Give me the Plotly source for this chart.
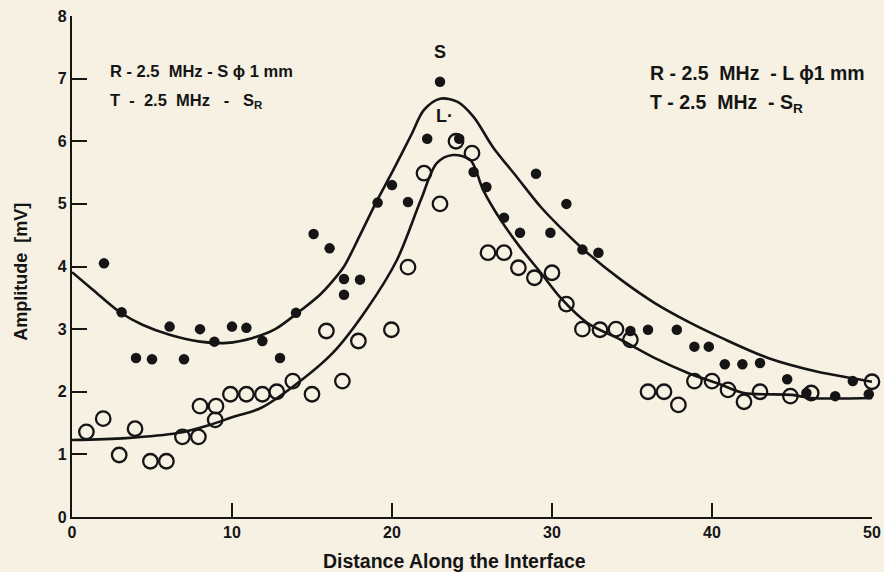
import plotly.graph_objects as go

# Filled dots: S receiver series
s_x = [2, 3.1, 4.0, 5.0, 6.1, 7.0, 8.0, 8.9, 10.0, 10.9, 11.9, 13.0, 14.0, 15.1, 16.1,
       17.0, 17.0, 18.0, 19.1, 20.0, 21.0, 22.2, 23.0, 24.2, 25.1, 25.9, 27.0, 28.0,
       29.0, 29.9, 30.9, 31.9, 32.9, 34.9, 36.0, 37.8, 38.9, 39.8, 40.8, 41.9, 43.0,
       44.7, 45.9, 47.7, 48.8, 49.8]
s_y = [4.05, 3.27, 2.54, 2.52, 3.04, 2.52, 3.0, 2.8, 3.04, 3.02, 2.81, 2.54, 3.26, 4.52, 4.29,
       3.8, 3.55, 3.79, 5.02, 5.3, 5.03, 6.04, 6.95, 6.04, 5.51, 5.27, 4.78, 4.54,
       5.48, 4.54, 5.0, 4.27, 4.22, 2.97, 2.99, 2.99, 2.72, 2.72, 2.44, 2.44, 2.46,
       2.2, 1.98, 1.93, 2.17, 1.96]

# Open circles: L receiver series
l_x = [0.9, 1.95, 2.95, 3.94, 4.9, 5.9, 6.9, 7.9, 8.0, 9.0, 8.95, 9.9, 10.9, 11.9, 12.8,
       13.8, 15.0, 15.9, 16.9, 17.9, 19.96, 21.0, 22.0, 23.0, 24.0, 25.0, 26.0, 27.0,
       27.9, 28.9, 30.0, 30.9, 31.9, 33.0, 34.0, 34.9, 36.0, 37.0, 37.9, 38.9, 40.0,
       41.0, 42.0, 43.0, 44.9, 46.2, 50.0]
l_y = [1.36, 1.57, 0.99, 1.41, 0.89, 0.89, 1.28, 1.28, 1.77, 1.77, 1.55, 1.96, 1.96, 1.96, 2.0,
       2.17, 1.96, 2.97, 2.17, 2.81, 2.99, 3.99, 5.49, 5.0, 6.0, 5.81, 4.22, 4.22,
       3.98, 3.82, 3.9, 3.4, 3.0, 2.99, 3.0, 2.83, 2.0, 2.0, 1.79, 2.17, 2.17,
       2.03, 1.84, 2.0, 1.93, 1.98, 2.16]

# Fitted curves
s_fit_x = [0, 1.3, 3.0, 4.4, 6.1, 8.0, 9.7, 11.3, 12.7, 14.1, 15.5, 16.3, 17.0, 18.0, 19.0,
           20.1, 21.2, 22.0, 23.0, 24.1, 25.1, 26.3, 27.8, 29.3, 30.5, 32.2, 34.3, 36.4,
           38.5, 40.6, 43.5, 46.6, 48.7, 50]
s_fit_y = [3.91, 3.63, 3.27, 3.07, 2.91, 2.8, 2.78, 2.86, 3.0, 3.26, 3.55, 3.77, 4.0, 4.5, 5.02,
           5.55, 6.1, 6.5, 6.68, 6.63, 6.39, 5.91, 5.43, 4.95, 4.63, 4.22, 3.79, 3.42,
           3.12, 2.86, 2.54, 2.32, 2.22, 2.16]

l_fit_x = [0, 3.4, 6.6, 8.6, 10.1, 11.8, 13.8, 16.3, 18.4, 20.3, 21.8, 22.8, 23.8, 24.9,
           25.7, 26.8, 28.0, 29.3, 30.5, 32.2, 34.3, 36.4, 38.5, 40.5, 42.0, 45.0, 46.2, 50]
l_fit_y = [1.23, 1.26, 1.34, 1.47, 1.6, 1.74, 2.08, 2.62, 3.31, 4.1, 5.06, 5.65, 5.78, 5.7,
           5.22, 4.74, 4.31, 3.9, 3.51, 3.1, 2.83, 2.54, 2.3, 2.12, 1.98, 1.95, 1.9, 1.9]

x_ticks = [0, 10, 20, 30, 40, 50]
y_ticks = [0, 1, 2, 3, 4, 5, 6, 7, 8]

INK = "#151515"
BG = "#f6f1e3"
FONT = "Liberation Sans, Arial, sans-serif"

fig = go.Figure()
for fx, fy in ((s_fit_x, s_fit_y), (l_fit_x, l_fit_y)):
    fig.add_trace(go.Scatter(x=fx, y=fy, mode="lines",
                             line=dict(color=INK, width=2.6, shape="spline", smoothing=0.9),
                             showlegend=False, hoverinfo="skip", cliponaxis=False))
fig.add_trace(go.Scatter(x=s_x, y=s_y, mode="markers",
                         marker=dict(symbol="circle", size=10.5, color=INK, line=dict(width=0)),
                         showlegend=False, cliponaxis=False))
fig.add_trace(go.Scatter(x=l_x, y=l_y, mode="markers",
                         marker=dict(symbol="circle-open", size=14.5, color=INK, line=dict(width=2.3)),
                         showlegend=False, cliponaxis=False))

def f(size):
    return dict(family=FONT, size=size, color=INK, weight="bold")

annotations = [
    dict(x=2.25, y=7.12, text="R - 2.5  MHz - S ϕ 1 mm", xanchor="left", font=f(16.5)),
    dict(x=2.25, y=6.65, text="T  -  2.5  MHz   -   S<sub>R</sub>", xanchor="left", font=f(16.5)),
    dict(x=36.0, y=7.09, text="R - 2.5  MHz  - L ϕ1 mm", xanchor="left", font=f(19.5)),
    dict(x=36.0, y=6.6, text="T - 2.5  MHz  - S<sub>R</sub>", xanchor="left", font=f(19.5)),
    dict(x=23.0, y=7.43, text="S", xanchor="center", font=f(18)),
    dict(x=23.3, y=6.41, text="L·", xanchor="center", font=f(18)),
]
for a in annotations:
    fig.add_annotation(xref="x", yref="y", showarrow=False, yanchor="middle", **a)

# Axis titles as paper-positioned annotations
fig.add_annotation(xref="paper", yref="paper", x=0.4775, y=-0.088, xanchor="center",
                   yanchor="middle", showarrow=False, text="Distance Along the Interface",
                   font=f(19.5))
fig.add_annotation(xref="paper", yref="paper", x=-0.064, y=0.489, xanchor="center",
                   yanchor="middle", showarrow=False, textangle=-90,
                   text="Amplitude  [mV]", font=f(18))

fig.update_layout(
    width=884, height=572,
    margin=dict(l=72, r=12, t=16, b=55),
    paper_bgcolor=BG, plot_bgcolor=BG,
    font=dict(family=FONT, color=INK),
    xaxis=dict(range=[0, 50], tickvals=x_ticks, ticktext=[str(v) for v in x_ticks],
               automargin=False,
               showgrid=False, zeroline=False, showline=True, linecolor=INK, linewidth=2.2,
               ticks="inside", ticklen=14, tickwidth=2, tickcolor=INK,
               tickfont=f(16)),
    yaxis=dict(range=[0, 8], tickvals=y_ticks, ticktext=[str(v) for v in y_ticks],
               automargin=False,
               showgrid=False, zeroline=False, showline=True, linecolor=INK, linewidth=2.2,
               ticks="inside", ticklen=15, tickwidth=2, tickcolor=INK,
               tickfont=f(16)),
)

fig.write_html("out.html", config={"displayModeBar": False},
               post_script="document.body.style.margin='0';document.body.style.overflow='hidden';")
